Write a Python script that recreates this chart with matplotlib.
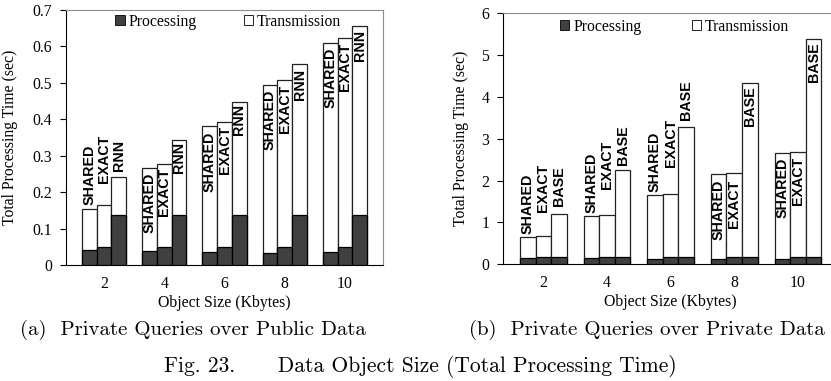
import numpy as np
import matplotlib.pyplot as plt
from matplotlib.patches import Patch

# object sizes (Kbytes) and method names for each panel
sizes = ['2', '4', '6', '8', '10']
methods_a = ['SHARED', 'EXACT', 'RNN']
methods_b = ['SHARED', 'EXACT', 'BASE']

# (a) private queries over public data: total time and processing part (sec)
total_a = [
    [0.155, 0.164, 0.242],
    [0.266, 0.278, 0.344],
    [0.381, 0.393, 0.448],
    [0.493, 0.507, 0.552],
    [0.610, 0.622, 0.655],
]
proc_a = [
    [0.042, 0.049, 0.138],
    [0.039, 0.049, 0.138],
    [0.036, 0.049, 0.138],
    [0.034, 0.049, 0.138],
    [0.036, 0.049, 0.138],
]

# (b) private queries over private data
total_b = [
    [0.645, 0.677, 1.20],
    [1.147, 1.18, 2.247],
    [1.65, 1.68, 3.29],
    [2.15, 2.19, 4.34],
    [2.65, 2.68, 5.385],
]
proc_b = [
    [0.14, 0.18, 0.167],
    [0.14, 0.18, 0.165],
    [0.13, 0.18, 0.165],
    [0.13, 0.18, 0.165],
    [0.13, 0.18, 0.165],
]

# vertical centre of each method label (data units)
label_y_a = [
    [0.247, 0.291, 0.300],
    [0.170, 0.200, 0.296],
    [0.285, 0.315, 0.399],
    [0.399, 0.428, 0.497],
    [0.513, 0.543, 0.602],
]
label_y_b = [
    [1.44, 1.836, 1.86],
    [1.955, 2.374, 2.852],
    [2.458, 2.912, 3.928],
    [1.298, 1.453, 3.772],
    [1.824, 2.003, 4.824],
]

PROC_COLOR = '#404040'
SERIF = 'Liberation Serif'
FS = 11.3
W = 0.245


def panel(ax, total, proc, label_y, methods, ymax, yticks, yticklabels,
          leg_x, leg_y, colspace):
    x = np.arange(len(sizes))
    total = np.array(total)
    proc = np.array(proc)
    for j in range(len(methods)):
        xs = x + (j - 1) * W
        ax.bar(xs, total[:, j], W, color='white', edgecolor='#222222', lw=0.9, zorder=2)
        ax.bar(xs, proc[:, j], W, color=PROC_COLOR, edgecolor='black', lw=0.9, zorder=3)
        for i in range(len(sizes)):
            ax.text(xs[i], label_y[i][j], methods[j], rotation=90, ha='center', va='center',
                    fontsize=10.3, fontweight='bold', family='Liberation Sans', zorder=4)
    ax.set_xlim(-0.63, 4.63)
    ax.set_ylim(0, ymax)
    ax.set_xticks(x)
    ax.set_xticklabels(sizes, family=SERIF, fontsize=FS)
    ax.set_yticks(yticks)
    ax.set_yticklabels(yticklabels, family=SERIF, fontsize=FS)
    ax.tick_params(axis='x', length=0, pad=8)
    ax.tick_params(axis='y', direction='out', length=4, width=0.8, pad=6)
    for s in ['top', 'right']:
        ax.spines[s].set_color('#8c8c8c')
    for s in ['left', 'bottom']:
        ax.spines[s].set_color('black')
    ax.set_xlabel('Object Size (Kbytes)', family=SERIF, fontsize=FS, labelpad=2)
    ax.set_ylabel('Total Processing Time (sec)', family=SERIF, fontsize=FS)
    handles = [Patch(facecolor=PROC_COLOR, edgecolor='black', lw=0.6, label='Processing'),
               Patch(facecolor='white', edgecolor='black', lw=0.6, label='Transmission')]
    ax.legend(handles=handles, ncol=2, loc='center left', bbox_to_anchor=(leg_x, leg_y),
              frameon=False, borderpad=0, borderaxespad=0, handlelength=0.6,
              handleheight=0.6, handletextpad=0.25, columnspacing=colspace,
              prop={'family': SERIF, 'size': FS})


fig = plt.figure(figsize=(8.31, 3.81), dpi=100)
fw, fh = 831, 381

ax1 = fig.add_axes([66 / fw, 1 - 265.3 / fh, 317 / fw, 255.3 / fh])
panel(ax1, total_a, proc_a, label_y_a, methods_a, 0.7,
      np.arange(0, 0.71, 0.1), ['0', '0.1', '0.2', '0.3', '0.4', '0.5', '0.6', '0.7'],
      0.155, 0.953, 3.0)
ax1.yaxis.set_label_coords(-0.151, 0.5)

ax2 = fig.add_axes([503.3 / fw, 1 - 264.3 / fh, 334.7 / fw, 251 / fh])
panel(ax2, total_b, proc_b, label_y_b, methods_b, 6,
      np.arange(0, 7, 1), ['0', '1', '2', '3', '4', '5', '6'],
      0.169, 0.947, 3.2)
ax2.yaxis.set_label_coords(-0.1025, 0.5)

# sub-captions and figure caption
fig.text(193 / fw, 1 - 330 / fh, '(a)  Private Queries over Public Data',
         family='cmr10', fontsize=15, ha='center', va='center')
fig.text(646.5 / fw, 1 - 330 / fh, '(b)  Private Queries over Private Data',
         family='cmr10', fontsize=15, ha='center', va='center')
fig.text(420 / fw, 1 - 367 / fh, 'Fig. 23.      Data Object Size (Total Processing Time)',
         family='cmr10', fontsize=15.5, ha='center', va='center')

fig.savefig('out.png', dpi=100)
